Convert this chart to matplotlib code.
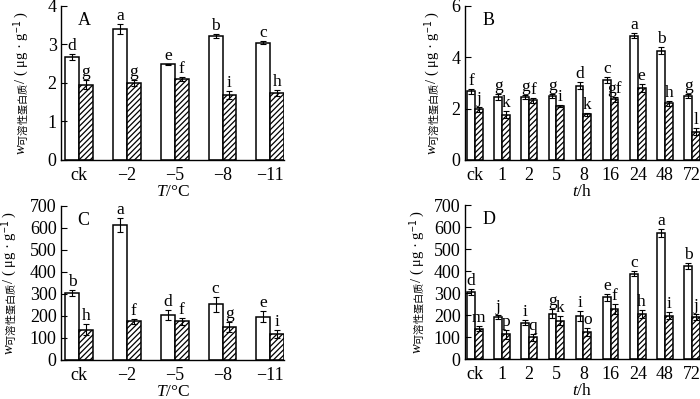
import numpy as np
import matplotlib
matplotlib.use('Agg')
import matplotlib.pyplot as plt

matplotlib.rc('font', family=['Liberation Serif', 'Noto Sans CJK SC'], size=12)
matplotlib.rc('mathtext', fontset='custom', rm='Noto Sans CJK SC',
              it='Liberation Serif:italic', bf='Liberation Serif:bold')
matplotlib.rc('hatch', linewidth=0.9)

# temperature treatments (A, C)
temp_labels = ['ck', '−2', '−5', '−8', '−11']
# time treatments (B, D)
time_labels = ['ck', '1', '2', '5', '8', '16', '24', '48', '72']

# A: soluble protein, temperature
a_white = [2.68, 3.40, 2.49, 3.22, 3.05]
a_white_err = [0.07, 0.14, 0.01, 0.05, 0.03]
a_hatch = [1.96, 2.00, 2.10, 1.69, 1.74]
a_hatch_err = [0.12, 0.08, 0.06, 0.10, 0.09]
a_white_sig = ['d', 'a', 'e', 'b', 'c']
a_hatch_sig = ['g', 'g', 'f', 'i', 'h']

# B: soluble protein, time
b_white = [2.68, 2.45, 2.46, 2.49, 2.90, 3.12, 4.84, 4.26, 2.50]
b_white_err = [0.10, 0.11, 0.09, 0.09, 0.14, 0.11, 0.09, 0.14, 0.09]
b_hatch = [1.97, 1.77, 2.32, 2.10, 1.79, 2.36, 2.80, 2.21, 1.11]
b_hatch_err = [0.11, 0.12, 0.09, 0.05, 0.06, 0.11, 0.15, 0.09, 0.14]
b_white_sig = ['f', 'g', 'g', 'g', 'd', 'c', 'a', 'b', 'g']
b_hatch_sig = ['j', 'k', 'f', 'i', 'k', 'gf', 'e', 'h', 'l']

# C: temperature, second trait
c_white = [305, 613, 205, 252, 196]
c_white_err = [14, 30, 23, 33, 24]
c_hatch = [138, 175, 175, 150, 117]
c_hatch_err = [23, 10, 15, 24, 19]
c_white_sig = ['b', 'a', 'd', 'c', 'e']
c_hatch_sig = ['h', 'f', 'f', 'g', 'i']

# D: time, second trait
d_white = [306, 192, 166, 207, 196, 280, 388, 574, 422]
d_white_err = [14, 9, 11, 22, 24, 15, 11, 19, 14]
d_hatch = [138, 112, 99, 175, 125, 228, 204, 198, 191]
d_hatch_err = [11, 19, 15, 19, 18, 23, 17, 17, 14]
d_white_sig = ['d', 'j', 'i', 'g', 'i', 'e', 'c', 'a', 'b']
d_hatch_sig = ['m', 'p', 'q', 'k', 'o', 'f', 'h', 'i', 'j']

ylabel = r'$w_{\mathrm{可溶性蛋白质}}$/ ( μg · g$^{-1}$ )'

fig = plt.figure(figsize=(7.0, 3.99), dpi=100)


def panel(rect, labels, white, werr, hatch, herr, wsig, hsig,
          ylim, yticks, xlim, width, tag, xlabel, ylab_x):
    ax = fig.add_axes(rect)
    x = np.arange(len(labels))
    ekw = dict(elinewidth=0.8, capthick=0.8, capsize=2.2, ecolor='black')
    ax.bar(x - width / 2, white, width, yerr=werr, color='white',
           edgecolor='black', linewidth=1.1, error_kw=ekw)
    ax.bar(x + width / 2, hatch, width, yerr=herr, color='white',
           edgecolor='black', linewidth=1.1, hatch='//////', error_kw=ekw)
    for xi, v, e, s in zip(x - width / 2, white, werr, wsig):
        ax.annotate(s, (xi, v + e), xytext=(0, 0), textcoords='offset points',
                    ha='center', va='bottom', fontsize=12.5)
    for xi, v, e, s in zip(x + width / 2, hatch, herr, hsig):
        ax.annotate(s, (xi, v + e), xytext=(0, 0), textcoords='offset points',
                    ha='center', va='bottom', fontsize=12.5)
    ax.set_xlim(xlim)
    ax.set_ylim(ylim)
    ax.set_yticks(yticks)
    ax.set_xticks(x)
    ax.set_xticklabels(labels)
    ax.tick_params(axis='x', length=0, pad=5, labelsize=13)
    ax.tick_params(axis='y', direction='in', length=4, width=0.8,
                   pad=3, labelsize=13)
    ax.spines['top'].set_visible(False)
    ax.spines['right'].set_visible(False)
    ax.spines['left'].set_linewidth(1.0)
    ax.spines['bottom'].set_linewidth(1.0)
    ax.set_ylabel(ylabel, fontsize=10.5)
    ax.yaxis.set_label_coords(ylab_x, 0.5)
    ax.set_xlabel(xlabel, fontsize=12.5, labelpad=0)
    ax.text(0.075, 0.96, tag, transform=ax.transAxes, ha='left', va='top',
            fontsize=13)
    return ax


panel([0.087, 0.599, 0.319, 0.386], temp_labels, a_white, a_white_err,
      a_hatch, a_hatch_err, a_white_sig, a_hatch_sig,
      (0, 4), [0, 1, 2, 3, 4], (-0.38, 4.29), 0.29, 'A', r'$T$/°C', -0.13)
panel([0.664, 0.599, 0.336, 0.386], time_labels, b_white, b_white_err,
      b_hatch, b_hatch_err, b_white_sig, b_hatch_sig,
      (0, 6), [0, 2, 4, 6], (-0.37, 8.29), 0.285, 'B', r'$t$/h', -0.094)
panel([0.087, 0.098, 0.319, 0.386], temp_labels, c_white, c_white_err,
      c_hatch, c_hatch_err, c_white_sig, c_hatch_sig,
      (0, 700), list(range(0, 701, 100)), (-0.38, 4.29), 0.29, 'C',
      r'$T$/°C', -0.185)
panel([0.664, 0.100, 0.336, 0.386], time_labels, d_white, d_white_err,
      d_hatch, d_hatch_err, d_white_sig, d_hatch_sig,
      (0, 700), list(range(0, 701, 100)), (-0.37, 8.29), 0.285, 'D',
      r'$t$/h', -0.157)

fig.savefig('out.png', dpi=100)
